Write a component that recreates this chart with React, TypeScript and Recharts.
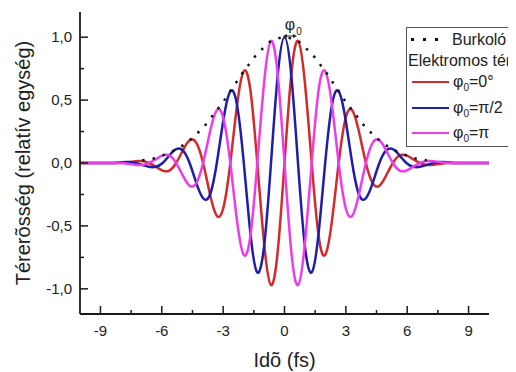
import React from 'react';
import { LineChart, Line, XAxis, YAxis, Legend } from 'recharts';

// time axis (fs), sampled every 1/8 of the optical period
const time = [
  -10, -9.94, -9.61, -9.28, -8.94, -8.61, -8.28, -7.95,
  -7.62, -7.29, -6.96, -6.63, -6.29, -5.96, -5.63, -5.3,
  -4.97, -4.64, -4.31, -3.98, -3.64, -3.31, -2.98, -2.65,
  -2.32, -1.99, -1.66, -1.33, -0.99, -0.66, -0.33,
  0,
  0.33, 0.66, 0.99, 1.33, 1.66, 1.99, 2.32,
  2.65, 2.98, 3.31, 3.64, 3.98, 4.31, 4.64, 4.97,
  5.3, 5.63, 5.96, 6.29, 6.63, 6.96, 7.29, 7.62,
  7.95, 8.28, 8.61, 8.94, 9.28, 9.61, 9.94, 10,
];

// phi0 = 0°
const fieldRed = [
  0, 0, 0, 0, 0, 0, 0, 0,
  0.007, 0.014, 0.015, 0, -0.03, -0.06, -0.06, 0,
  0.1, 0.18, 0.16, 0, -0.25, -0.42, -0.35, 0,
  0.46, 0.73, 0.57, 0, -0.65, -0.97, -0.7,
  0,
  0.7, 0.97, 0.65, 0, -0.57, -0.73, -0.46,
  0, 0.35, 0.42, 0.25, 0, -0.16, -0.18, -0.1,
  0, 0.06, 0.06, 0.03, 0, -0.015, -0.014, -0.007,
  0, 0, 0, 0, 0, 0, 0, 0,
];

// phi0 = pi/2
const fieldBlue = [
  0, 0, 0, 0, 0, 0, 0, 0.006,
  0.007, 0, -0.015, -0.03, -0.03, 0, 0.06, 0.11,
  0.1, 0, -0.16, -0.28, -0.25, 0, 0.35, 0.57,
  0.46, 0, -0.57, -0.87, -0.65, 0, 0.7,
  1,
  0.7, 0, -0.65, -0.87, -0.57, 0, 0.46,
  0.57, 0.35, 0, -0.25, -0.28, -0.16, 0, 0.1,
  0.11, 0.06, 0, -0.03, -0.03, -0.015, 0, 0.007,
  0.006, 0, 0, 0, 0, 0, 0, 0,
];

// phi0 = pi
const fieldMagenta = [
  0, 0, 0, 0, 0, 0, 0, 0,
  -0.007, -0.014, -0.015, 0, 0.03, 0.06, 0.06, 0,
  -0.1, -0.18, -0.16, 0, 0.25, 0.42, 0.35, 0,
  -0.46, -0.73, -0.57, 0, 0.65, 0.97, 0.7,
  0,
  -0.7, -0.97, -0.65, 0, 0.57, 0.73, 0.46,
  0, -0.35, -0.42, -0.25, 0, 0.16, 0.18, 0.1,
  0, -0.06, -0.06, -0.03, 0, 0.015, 0.014, 0.007,
  0, 0, 0, 0, 0, 0, 0, 0,
];

// envelope (Burkoló)
const envelope = [
  null, null, null, null, null, null, null, null,
  null, null, 0.02, 0.03, 0.04, 0.06, 0.08, 0.11,
  0.14, 0.18, 0.23, 0.28, 0.35, 0.42, 0.49, 0.57,
  0.65, 0.73, 0.8, 0.87, 0.92, 0.97, 0.99,
  1,
  0.99, 0.97, 0.92, 0.87, 0.8, 0.73, 0.65,
  0.57, 0.49, 0.42, 0.35, 0.28, 0.23, 0.18, 0.14,
  0.11, 0.08, 0.06, 0.04, 0.03, 0.02, null, null,
  null, null, null, null, null, null, null, null,
];

const xTicks = [-9, -7.5, -6, -4.5, -3, -1.5, 0, 1.5, 3, 4.5, 6, 7.5, 9];
const yTicks = [-1, -0.75, -0.5, -0.25, 0, 0.25, 0.5, 0.75, 1];

const data = time.map((t, i) => ({
  t,
  red: fieldRed[i],
  blue: fieldBlue[i],
  magenta: fieldMagenta[i],
  env: envelope[i],
}));

const FONT = '"Liberation Sans", Arial, sans-serif';
const AXIS = '#1a1a1a';
const RED = '#d42a2a';
const BLUE = '#1e1eaa';
const MAGENTA = '#ec3cec';

const isMajorX = (v: number) => Math.abs(v % 3) < 1e-6;
const isMajorY = (v: number) => Math.abs((v * 2) % 1) < 1e-6;

const BottomTick = (p: any) => {
  const v = p.payload.value;
  const major = isMajorX(v);
  return (
    <g>
      <line x1={p.x} x2={p.x} y1={p.y} y2={p.y - (major ? 8 : 4)} stroke={AXIS} strokeWidth={1.5} />
      {major && (
        <text x={p.x} y={p.y + 22} textAnchor="middle" fontSize={15} fill="#222" fontFamily={FONT}>
          {String(v)}
        </text>
      )}
    </g>
  );
};

const TopTick = (p: any) => {
  const major = isMajorX(p.payload.value);
  return <line x1={p.x} x2={p.x} y1={p.y} y2={p.y + (major ? 8 : 4)} stroke={AXIS} strokeWidth={1.5} />;
};

const LeftTick = (p: any) => {
  const v = p.payload.value;
  const major = isMajorY(v);
  return (
    <g>
      <line x1={p.x} x2={p.x + (major ? 8 : 4)} y1={p.y} y2={p.y} stroke={AXIS} strokeWidth={1.5} />
      {major && (
        <text x={p.x - 8} y={p.y + 5} textAnchor="end" fontSize={15} fill="#222" fontFamily={FONT}>
          {v.toFixed(1).replace('.', ',')}
        </text>
      )}
    </g>
  );
};

const RightTick = (p: any) => {
  const major = isMajorY(p.payload.value);
  return <line x1={p.x} x2={p.x - (major ? 8 : 4)} y1={p.y} y2={p.y} stroke={AXIS} strokeWidth={1.5} />;
};

const Phi = ({ sub }: { sub: string }) => (
  <span>
    φ<sub style={{ fontSize: 10, verticalAlign: -4 }}>0</sub>={sub}
  </span>
);

const row = (top: number): React.CSSProperties => ({
  position: 'absolute',
  top: top - 10,
  height: 20,
  lineHeight: '20px',
  whiteSpace: 'nowrap',
});

const LegendBox = () => (
  <div
    style={{
      position: 'relative',
      width: 110,
      height: 120,
      boxSizing: 'border-box',
      border: '1px solid #555',
      borderRight: 'none',
      background: '#fff',
      overflow: 'hidden',
      fontFamily: FONT,
      fontSize: 16,
      color: '#222',
    }}
  >
    <svg style={{ position: 'absolute', left: 3, top: 9 }} width={32} height={6}>
      {[1, 13, 25].map((x) => (
        <rect key={x} x={x} y={1} width={3} height={3} fill="#111" />
      ))}
    </svg>
    <div style={{ ...row(12), left: 45 }}>Burkoló</div>
    <div style={{ ...row(33), left: 1 }}>Elektromos tér</div>
    {[
      { c: RED, y: 54, s: '0°' },
      { c: BLUE, y: 80, s: 'π/2' },
      { c: MAGENTA, y: 105, s: 'π' },
    ].map((r) => (
      <React.Fragment key={r.s}>
        <div style={{ position: 'absolute', left: 5, top: r.y - 1, width: 37, height: 2, background: r.c }} />
        <div style={{ ...row(r.y), left: 46 }}>
          <Phi sub={r.s} />
        </div>
      </React.Fragment>
    ))}
  </div>
);

export default function App() {
  return (
    <div style={{ position: 'relative', width: 508, height: 364, fontFamily: FONT }}>
      <LineChart width={508} height={364} data={data} margin={{ top: 4, right: 27, bottom: 0, left: 0 }}>
        <XAxis
          xAxisId="b"
          dataKey="t"
          type="number"
          domain={[-10, 10]}
          allowDataOverflow
          ticks={xTicks}
          interval={0}
          tickSize={0}
          tickMargin={0}
          tickLine={false}
          tick={(p: any) => <BottomTick {...p} />}
          axisLine={{ stroke: AXIS, strokeWidth: 1.8 }}
          height={58}
          label={{ value: 'Idõ (fs)', position: 'insideBottom', offset: 5, fontSize: 20, fill: '#222', fontFamily: FONT }}
        />
        <XAxis
          xAxisId="t"
          orientation="top"
          dataKey="t"
          type="number"
          domain={[-10, 10]}
          allowDataOverflow
          ticks={xTicks}
          interval={0}
          tickSize={0}
          tickMargin={0}
          tickLine={false}
          tick={(p: any) => <TopTick {...p} />}
          axisLine={{ stroke: AXIS, strokeWidth: 1.8 }}
          height={0}
        />
        <YAxis
          yAxisId="l"
          type="number"
          domain={[-1.2, 1.2]}
          allowDataOverflow
          ticks={yTicks}
          interval={0}
          tickSize={0}
          tickMargin={0}
          tickLine={false}
          tick={(p: any) => <LeftTick {...p} />}
          axisLine={{ stroke: AXIS, strokeWidth: 1.8 }}
          width={72}
          label={{
            value: 'Térerõsség (relatív egység)',
            angle: -90,
            position: 'insideLeft',
            offset: 15,
            fontSize: 20,
            fill: '#222',
            fontFamily: FONT,
            style: { textAnchor: 'middle' },
          }}
        />
        <YAxis
          yAxisId="r"
          orientation="right"
          type="number"
          domain={[-1.2, 1.2]}
          allowDataOverflow
          ticks={yTicks}
          interval={0}
          tickSize={0}
          tickMargin={0}
          tickLine={false}
          tick={(p: any) => <RightTick {...p} />}
          axisLine={{ stroke: AXIS, strokeWidth: 1.8 }}
          width={0}
        />
        <Line xAxisId="b" yAxisId="l" type="natural" dataKey="red" stroke={RED} strokeWidth={2.5} dot={false} isAnimationActive={false} />
        <Line xAxisId="b" yAxisId="l" type="natural" dataKey="blue" stroke={BLUE} strokeWidth={2.5} dot={false} isAnimationActive={false} />
        <Line xAxisId="b" yAxisId="l" type="natural" dataKey="magenta" stroke={MAGENTA} strokeWidth={2.5} dot={false} isAnimationActive={false} />
        <Line
          xAxisId="t"
          yAxisId="r"
          type="natural"
          dataKey="env"
          stroke="#111"
          strokeWidth={2.5}
          strokeDasharray="2.5 8"
          dot={false}
          isAnimationActive={false}
        />
        <Legend
          verticalAlign="middle"
          align="center"
          content={() => <LegendBox />}
          wrapperStyle={{ left: 398, top: 19, width: 110, height: 120 }}
        />
      </LineChart>
      {/* phase shift annotation */}
      <svg style={{ position: 'absolute', left: 0, top: 0, pointerEvents: 'none' }} width={508} height={364}>
        <text x={282} y={22} textAnchor="middle" fontSize={16} fill="#222" fontFamily={FONT}>
          φ
        </text>
        <text x={291} y={27} textAnchor="middle" fontSize={10} fill="#222" fontFamily={FONT}>
          0
        </text>
        <line x1={277} x2={287} y1={28} y2={28} stroke="#222" strokeWidth={1} />
        <path d="M275,28 L279,26 L279,30 Z" fill="#222" />
        <path d="M289,28 L285,26 L285,30 Z" fill="#222" />
      </svg>
    </div>
  );
}
